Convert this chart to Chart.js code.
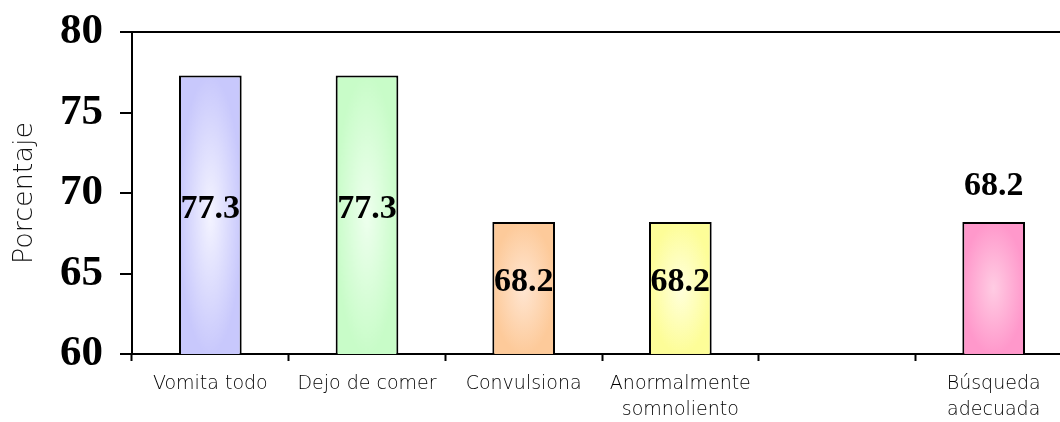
<!DOCTYPE html>
<html>
<head>
<meta charset="utf-8">
<script src="https://cdn.jsdelivr.net/npm/chart.js@4/dist/chart.umd.min.js"></script>
<style>
  html, body { margin: 0; padding: 0; background: #fff; overflow: hidden; }
  #wrap { width: 1060px; height: 422px; overflow: hidden; }
  #box { width: 1072px; height: 422px; }
</style>
</head>
<body>
<div id="wrap"><div id="box"><canvas id="barChart"></canvas></div></div>
<script>
const categories = ['Vomita todo', 'Dejo de comer', 'Convulsiona', ['Anormalmente', 'somnoliento'], '', ['Búsqueda', 'adecuada']];
const values = [77.3, 77.3, 68.2, 68.2, null, 68.2];
const yTicks = [60, 65, 70, 75, 80];

const edgeColors = ['#c8c8fc', '#c8fcc8', '#fdca9a', '#fdfd98', '#ffffff', '#ff98cb'];
const centerColors = ['#f4f4ff', '#eeffee', '#ffe6d2', '#ffffdc', '#ffffff', '#ffcce3'];
const labelPlace = ['inside', 'inside', 'inside', 'inside', 'none', 'above'];

// rectangle-ish radial fill, like the old office "from center" gradient
function barFill(context) {
    const chart = context.chart;
    const i = context.dataIndex;
    if (!chart.chartArea || values[i] === null) return edgeColors[i];
    const xs = chart.scales.x, ys = chart.scales.y;
    const w = Math.round(xs.width / categories.length * 0.4);
    const top = ys.getPixelForValue(values[i]);
    const bottom = ys.getPixelForValue(ys.min);
    const h = Math.max(2, Math.round(bottom - top));
    const left = xs.getPixelForValue(i) - w / 2;

    const off = document.createElement('canvas');
    off.width = w; off.height = h;
    const o = off.getContext('2d');
    o.fillStyle = edgeColors[i];
    o.fillRect(0, 0, w, h);
    o.save();
    o.translate(w / 2, h / 2);
    o.scale(1, h / w);
    const g = o.createRadialGradient(0, 0, 0, 0, 0, w / 2);
    g.addColorStop(0, centerColors[i]);
    g.addColorStop(1, edgeColors[i]);
    o.fillStyle = g;
    o.fillRect(-w / 2, -w / 2, w, w);
    o.restore();

    const p = chart.ctx.createPattern(off, 'no-repeat');
    p.setTransform(new DOMMatrix().translate(left, top));
    return p;
}

const valueLabels = {
    id: 'valueLabels',
    afterDatasetsDraw(chart) {
        const ctx = chart.ctx;
        const meta = chart.getDatasetMeta(0);
        const base = chart.scales.y.getPixelForValue(chart.scales.y.min);
        ctx.save();
        ctx.fillStyle = '#000';
        ctx.textAlign = 'center';
        ctx.textBaseline = 'middle';
        ctx.font = 'bold 34px "Liberation Serif", "Times New Roman", serif';
        meta.data.forEach(function(bar, i) {
            const v = values[i];
            if (v === null || labelPlace[i] === 'none') return;
            const p = bar.getProps(['x', 'y'], true);
            if (labelPlace[i] === 'inside') {
                ctx.fillText(v.toFixed(1), p.x, (p.y + base) / 2 - 6);
            } else {
                ctx.fillText(v.toFixed(1), p.x, p.y - 36);
            }
        });
        ctx.restore();
    }
};

new Chart(document.getElementById('barChart').getContext('2d'), {
    type: 'bar',
    data: {
        labels: categories,
        datasets: [{
            data: values,
            backgroundColor: barFill,
            borderColor: '#000',
            borderWidth: 2,
            borderSkipped: false,
            barPercentage: 0.4,
            categoryPercentage: 1.0
        }]
    },
    options: {
        responsive: true,
        maintainAspectRatio: false,
        animation: false,
        layout: { padding: { top: 32, right: 0, left: 0, bottom: 0 } },
        plugins: {
            legend: { display: false },
            tooltip: { enabled: false }
        },
        scales: {
            x: {
                grid: {
                    offset: true,
                    drawOnChartArea: false,
                    tickColor: '#000',
                    tickLength: 7,
                    tickWidth: 2
                },
                border: { display: true, color: '#000', width: 2 },
                ticks: {
                    color: '#000',
                    padding: 11,
                    maxRotation: 0,
                    autoSkip: false,
                    font: { family: '"DejaVu Sans", sans-serif', size: 19, weight: 200, lineHeight: 1.32 }
                },
                afterFit: function(scale) { scale.height = 68; }
            },
            y: {
                min: 60,
                max: 80,
                afterBuildTicks: function(scale) {
                    scale.ticks = yTicks.map(function(v) { return { value: v }; });
                },
                grid: {
                    color: function(c) { return c.tick && c.tick.value === 80 ? '#000' : 'rgba(0,0,0,0)'; },
                    lineWidth: 2,
                    tickColor: '#000',
                    tickLength: 12,
                    tickWidth: 2
                },
                border: { display: true, color: '#000', width: 2 },
                ticks: {
                    color: '#000',
                    padding: 17,
                    font: { family: '"Liberation Serif", "Times New Roman", serif', size: 43, weight: 'bold' }
                },
                title: {
                    display: true,
                    text: 'Porcentaje',
                    color: '#111',
                    padding: { top: 9, bottom: 0 },
                    font: { family: '"DejaVu Sans", sans-serif', size: 27, weight: 200 }
                },
                afterFit: function(scale) {
                    scale.width = 132;
                    scale.paddingTop = 0;
                    scale.paddingBottom = 0;
                }
            }
        }
    },
    plugins: [valueLabels]
});
</script>
</body>
</html>
